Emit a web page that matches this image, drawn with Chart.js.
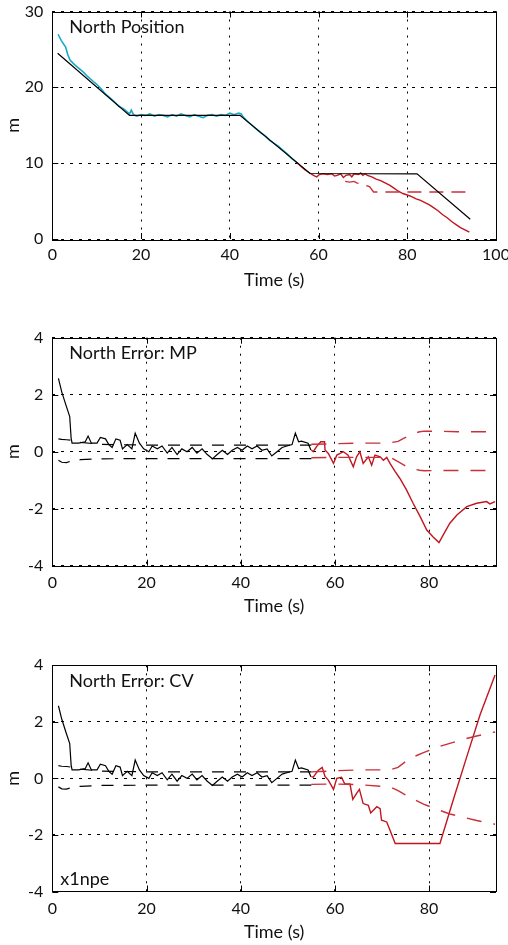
<!DOCTYPE html>
<html><head><meta charset="utf-8">
<script src="https://cdn.jsdelivr.net/npm/chart.js@4"></script>
<style>
html,body{margin:0;padding:0;background:#fff;}
#wrap{position:relative;width:508px;height:945px;overflow:hidden;background:#fff;}
canvas{position:absolute;left:0;}
</style></head><body><div id="wrap">
<canvas id="c1" width="508" height="300" style="top:0px"></canvas>
<canvas id="c2" width="508" height="300" style="top:320px"></canvas>
<canvas id="c3" width="508" height="300" style="top:645px"></canvas>
</div>
<script>
// ---------- tick labels ----------
const xTicks1 = [0, 20, 40, 60, 80, 100];
const yTicks1 = [0, 10, 20, 30];
const xTicks2 = [0, 20, 40, 60, 80];
const yTicks2 = [-4, -2, 0, 2, 4];

// ---------- panel 1: North Position ----------
const truthT = [1.2, 17.4, 42.3, 58.1, 82.2, 94.2];
const truthV = [24.5, 16.3, 16.3, 8.64, 8.6, 2.6];

const cyanT = [1.3, 2, 3, 3.5, 4, 5, 6, 7, 8, 9, 10, 11, 12, 13, 14, 15, 16, 16.8, 17.4, 17.8, 18.3, 19, 20, 21, 22, 23, 24, 25, 26, 27, 28, 29, 30, 31, 32, 33, 34, 35, 36, 37, 38, 39, 40, 41, 42, 42.6, 43, 44, 45, 46, 47, 48, 49, 50, 51, 52, 53, 54, 55.1];
const cyanV = [27.0, 26.2, 25.3, 24.3, 23.6, 23.0, 22.5, 22.0, 21.4, 20.9, 20.4, 19.8, 19.1, 18.6, 18.1, 17.5, 17.2, 16.8, 16.5, 17.0, 16.4, 16.2, 16.4, 16.3, 16.5, 16.2, 16.4, 16.3, 16.1, 16.4, 16.2, 16.5, 16.3, 16.1, 16.4, 16.2, 16.0, 16.3, 16.4, 16.2, 16.4, 16.3, 16.6, 16.4, 16.6, 16.5, 16.1, 15.5, 15.0, 14.5, 14.0, 13.6, 13.0, 12.6, 12.2, 11.7, 11.2, 10.6, 10.1];

const red1T = [55.1, 56, 57, 58, 58.6, 59.2, 59.6, 60.2, 61, 62, 63, 63.6, 64.2, 65, 65.6, 66.2, 67, 67.5, 68, 69, 69.5, 70, 70.5, 71, 72, 73, 74, 75, 76, 77, 78, 79, 80, 81, 82, 83, 84, 85, 86, 87, 88, 89, 90, 91, 92, 93, 94];
const red1V = [10.1, 9.6, 9.1, 8.7, 8.5, 8.3, 8.2, 8.5, 8.6, 8.5, 8.6, 8.3, 8.4, 8.6, 8.1, 8.4, 8.5, 8.2, 8.6, 8.5, 8.7, 8.4, 8.6, 8.4, 8.2, 7.9, 7.7, 7.4, 7.1, 6.7, 6.3, 6.0, 5.8, 5.6, 5.3, 5.1, 4.8, 4.5, 4.1, 3.7, 3.2, 2.8, 2.3, 1.9, 1.5, 1.2, 0.9];

const redDash1T = [66, 67, 68, 68.6, 70, 71.5, 72.4, 80, 94];
const redDash1V = [7.6, 7.5, 7.6, 7.4, 7.2, 6.9, 6.2, 6.2, 6.2];

// ---------- panels 2 & 3: error before t=55 (same in both) ----------
const errT = [1.3, 2.0, 3.0, 3.7, 4.0, 4.2, 5.6, 7.0, 7.6, 8.3, 9.5, 10.2, 11.3, 12.0, 12.7, 13.5, 14.4, 14.9, 15.9, 16.9, 17.6, 18.5, 19.4, 20.5, 21.2, 22.3, 23.3, 24.4, 25.4, 26.5, 27.5, 28.6, 29.7, 30.7, 31.8, 32.9, 34.0, 35.0, 36.1, 37.2, 38.2, 39.3, 40.3, 41.4, 42.4, 43.5, 44.5, 45.6, 46.6, 47.7, 48.8, 49.8, 50.9, 51.6, 52.3, 52.9, 54.3, 54.9];
const errV = [2.57, 2.1, 1.58, 1.23, 0.47, 0.3, 0.3, 0.35, 0.55, 0.3, 0.3, 0.5, 0.45, 0.25, 0.15, 0.45, 0.4, 0.1, 0.25, 0.1, 0.65, 0.3, 0.1, 0.0, 0.2, 0.1, 0.2, -0.05, 0.15, -0.1, 0.1, 0.0, 0.15, -0.05, 0.1, -0.1, -0.25, -0.1, 0.05, -0.1, 0.05, 0.15, 0.05, 0.2, 0.1, 0.2, 0.05, 0.1, -0.15, 0.0, 0.15, 0.2, 0.25, 0.65, 0.35, 0.37, 0.3, 0.06];

const bndT = [1.3, 2, 3, 4, 6, 10, 20, 30, 40, 50, 55];
const bndUp = [0.45, 0.43, 0.42, 0.4, 0.33, 0.26, 0.23, 0.23, 0.23, 0.23, 0.23];
const bndLo = [-0.3, -0.37, -0.38, -0.33, -0.28, -0.25, -0.24, -0.24, -0.24, -0.24, -0.24];

// ---------- panel 2: North Error MP ----------
const red2T = [55.0, 55.4, 56.1, 57.0, 57.8, 57.9, 58.6, 59.7, 60.4, 61.8, 62.8, 63.9, 64.6, 65.3, 66.0, 67.1, 67.8, 68.5, 69.6, 70.3, 71.0, 71.7, 72.8, 73.8, 75.2, 76.6, 78.1, 79.5, 80.9, 82.1, 83.0, 84.4, 85.9, 88.0, 90.1, 92.2, 92.9, 94.0];
const red2V = [0.06, 0.0, 0.18, 0.35, 0.35, 0.06, -0.06, -0.41, -0.12, 0.0, -0.12, -0.53, -0.18, 0.0, -0.41, -0.18, -0.47, -0.12, -0.18, -0.3, -0.2, -0.41, -0.7, -0.94, -1.34, -1.81, -2.28, -2.75, -3.0, -3.19, -2.92, -2.51, -2.22, -1.93, -1.81, -1.75, -1.83, -1.75];
const bnd2T = [55, 60, 65, 70, 72, 73.4, 75, 76.3, 78, 79, 82, 86, 90, 94];
const bnd2Up = [0.26, 0.28, 0.3, 0.3, 0.32, 0.36, 0.5, 0.62, 0.7, 0.72, 0.72, 0.7, 0.7, 0.7];
const bnd2Lo = [-0.21, -0.2, -0.2, -0.2, -0.22, -0.35, -0.5, -0.6, -0.65, -0.67, -0.66, -0.66, -0.66, -0.66];

// ---------- panel 3: North Error CV ----------
const red3T = [55.0, 55.4, 56.5, 57.3, 57.9, 58.6, 59.7, 60.4, 61.4, 62.1, 63.2, 63.8, 64.6, 65.2, 66.0, 67.1, 67.6, 68.9, 69.6, 69.9, 71.0, 71.7, 72.8, 82.3, 85.1, 88.0, 90.8, 94.0];
const red3V = [0.06, 0.04, 0.29, 0.39, 0.07, -0.06, -0.39, 0.0, 0.04, -0.2, -0.2, -0.74, -0.53, -0.39, -0.89, -0.95, -1.22, -1.0, -1.07, -1.48, -1.54, -1.83, -2.3, -2.3, -0.77, 0.77, 2.24, 3.66];
const bnd3T = [55, 60, 65, 70, 72, 73.4, 75.9, 78.8, 81.6, 84.4, 87.2, 90.1, 92.9, 94];
const bnd3Up = [0.23, 0.27, 0.3, 0.3, 0.32, 0.39, 0.71, 0.91, 1.1, 1.24, 1.38, 1.5, 1.61, 1.64];
const bnd3Lo = [-0.21, -0.2, -0.22, -0.28, -0.32, -0.43, -0.67, -0.91, -1.09, -1.26, -1.37, -1.49, -1.59, -1.62];

// ---------- helpers ----------
const FONT = 'Lato, "Open Sans", sans-serif';
Chart.defaults.font.family = FONT;
Chart.defaults.font.size = 16;
Chart.defaults.color = '#111';

const BLACK = '#000000', CYAN = '#1aa8c8', RED = '#c2161f', REDD = '#c93039';

function pts(ts, vs) { return ts.map((t, i) => ({x: t, y: vs[i]})); }
function line(ts, vs, color, width, dash) {
  return {data: pts(ts, vs), borderColor: color, borderWidth: width, borderDash: dash || [],
          pointRadius: 0, fill: false, tension: 0};
}

const framePlugin = {
  id: 'frame',
  afterDraw(chart, args, o) {
    const {ctx, chartArea: a, scales} = chart;
    ctx.save();
    ctx.strokeStyle = '#000';
    ctx.lineWidth = 1;
    ctx.setLineDash([]);
    ctx.strokeRect(Math.round(a.left) + 0.5, Math.round(a.top) + 0.5,
                   Math.round(a.right - a.left), Math.round(a.bottom - a.top));
    // inward tick marks on all four sides
    ctx.beginPath();
    scales.x.ticks.forEach(t => {
      const px = Math.round(scales.x.getPixelForValue(t.value)) + 0.5;
      ctx.moveTo(px, a.top); ctx.lineTo(px, a.top + 6);
      ctx.moveTo(px, a.bottom); ctx.lineTo(px, a.bottom - 6);
    });
    scales.y.ticks.forEach(t => {
      const py = Math.round(scales.y.getPixelForValue(t.value)) + 0.5;
      ctx.moveTo(a.left, py); ctx.lineTo(a.left + 6, py);
      ctx.moveTo(a.right, py); ctx.lineTo(a.right - 6, py);
    });
    ctx.stroke();
    // texts
    ctx.fillStyle = '#111';
    ctx.font = '18px ' + FONT;
    ctx.textBaseline = 'alphabetic';
    ctx.textAlign = 'left';
    ctx.fillText(o.title, a.left + 17, a.top + 21.5);
    if (o.extra) ctx.fillText(o.extra, a.left + 8, a.bottom - 7);
    ctx.textAlign = 'center';
    ctx.fillText('Time (s)', (a.left + a.right) / 2, a.bottom + 46.5);
    ctx.save();
    ctx.translate(13, (a.top + a.bottom) / 2);
    ctx.rotate(-Math.PI / 2);
    ctx.textBaseline = 'middle';
    ctx.fillText('m', 0, 0);
    ctx.restore();
    ctx.restore();
  }
};

function makeChart(id, datasets, cfg) {
  return new Chart(document.getElementById(id), {
    type: 'line',
    data: {datasets},
    plugins: [framePlugin],
    options: {
      responsive: false, animation: false, events: [],
      layout: {padding: {top: cfg.padTop, right: 12, left: 0, bottom: 0}},
      plugins: {legend: {display: false}, tooltip: {enabled: false},
                frame: {title: cfg.title, extra: cfg.extra}},
      scales: {
        x: {
          type: 'linear', min: cfg.xMin, max: cfg.xMax,
          afterBuildTicks: s => { s.ticks = cfg.xTicks.map(v => ({value: v})); },
          afterFit: s => { s.height = cfg.xHeight; s.paddingLeft = 0; s.paddingRight = 0; },
          ticks: {padding: cfg.xPad, maxRotation: 0, autoSkip: false, callback: v => String(v),
                  font: {size: 16}, color: '#111'},
          grid: {color: '#000', lineWidth: 1, drawTicks: false},
          border: {display: false, dash: [2, 6]}
        },
        y: {
          type: 'linear', min: cfg.yMin, max: cfg.yMax,
          afterBuildTicks: s => { s.ticks = cfg.yTicks.map(v => ({value: v})); },
          afterFit: s => { s.width = 52.3; s.paddingTop = 0; s.paddingBottom = 0; },
          ticks: {padding: 9, autoSkip: false, callback: v => String(v),
                  font: {size: 16}, color: '#111'},
          grid: {color: '#000', lineWidth: 1, drawTicks: false},
          border: {display: false, dash: [3, 6]}
        }
      }
    }
  });
}

makeChart('c1', [
  line(truthT, truthV, BLACK, 1.2),
  line(redDash1T, redDash1V, REDD, 1.4, [14, 8]),
  line(red1T, red1V, RED, 1.4),
  line(cyanT, cyanV, CYAN, 1.6)
], {title: 'North Position', padTop: 11.5, xHeight: 61, xPad: 6,
    xMin: 0, xMax: 100, yMin: 0, yMax: 30, xTicks: xTicks1, yTicks: yTicks1});

makeChart('c2', [
  line(bndT, bndUp, BLACK, 1.2, [12, 10]),
  line(bndT, bndLo, BLACK, 1.2, [12, 10]),
  line(errT, errV, BLACK, 1.2),
  line(bnd2T, bnd2Up, REDD, 1.4, [15, 12]),
  line(bnd2T, bnd2Lo, REDD, 1.4, [15, 12]),
  line(red2T, red2V, RED, 1.4)
], {title: 'North Error: MP', padTop: 17.7, xHeight: 54.3, xPad: 8,
    xMin: 0, xMax: 94.2, yMin: -4, yMax: 4, xTicks: xTicks2, yTicks: yTicks2});

makeChart('c3', [
  line(bndT, bndUp, BLACK, 1.2, [12, 10]),
  line(bndT, bndLo, BLACK, 1.2, [12, 10]),
  line(errT, errV, BLACK, 1.2),
  line(bnd3T, bnd3Up, REDD, 1.4, [15, 12]),
  line(bnd3T, bnd3Lo, REDD, 1.4, [15, 12]),
  line(red3T, red3V, RED, 1.4)
], {title: 'North Error: CV', extra: 'x1npe', padTop: 20.3, xHeight: 53.5, xPad: 8,
    xMin: 0, xMax: 94.2, yMin: -4, yMax: 4, xTicks: xTicks2, yTicks: yTicks2});
</script>
</body></html>
